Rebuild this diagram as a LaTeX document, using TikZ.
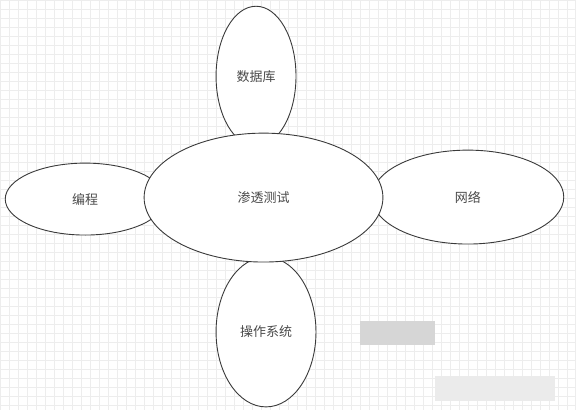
\documentclass[tikz,border=0pt]{standalone}
\usepackage{fontspec}
\newfontfamily\cjk{Noto Sans CJK SC}
\usetikzlibrary{shapes.geometric}

\definecolor{gridgray}{HTML}{EDEDED}
\definecolor{linegray}{HTML}{3A3A3A}
\definecolor{textgray}{HTML}{4A4A4A}

\tikzset{
  topic/.style={ellipse, draw=linegray, line width=0.9pt, fill=white,
    inner sep=0pt, text=textgray, font=\cjk\fontsize{13}{15}\selectfont},
  blur/.style={draw=none}
}

\begin{document}
\begin{tikzpicture}[x=1pt,y=-1pt]
    % background paper with grid
    \fill[white] (0,0) rectangle (576,410);
    \draw[gridgray, line width=0.5pt, step=9pt] (0,0) grid (576,410);
    \useasboundingbox (0,0) rectangle (576,410);

    % outer topics
    \node[topic, minimum width=80pt, minimum height=140pt] (db) at (256,76) {数据库};
    \node[topic, minimum width=160pt, minimum height=72pt] (prog) at (85,199) {编程};
    \node[topic, minimum width=192pt, minimum height=94pt] (net) at (468,197) {网络};
    \node[topic, minimum width=100pt, minimum height=150pt] (os) at (266,332) {操作系统};

    % central topic on top
    \node[topic, minimum width=239pt, minimum height=129pt] (pentest) at (263.5,197.5) {渗透测试};

    % blurred marks
    \fill[blur, fill=black!16] (360,321) rectangle (435,345);
    \fill[blur, fill=black!8] (435,376) rectangle (555,401);
\end{tikzpicture}
\end{document}
